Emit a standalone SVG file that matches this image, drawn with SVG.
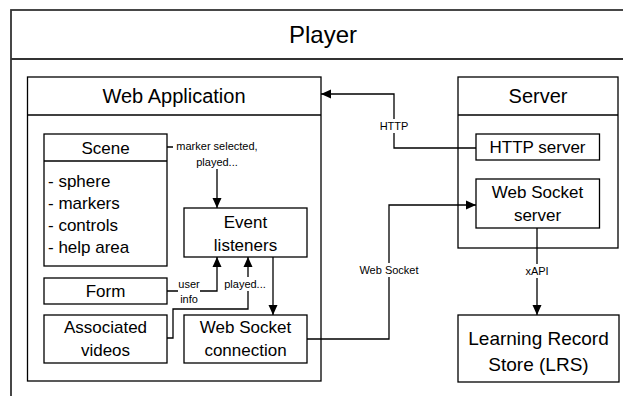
<svg xmlns="http://www.w3.org/2000/svg" width="623" height="396" viewBox="0 0 623 396">
<style>
.box{fill:#fff;stroke:#000;stroke-width:1.3}
.outer{fill:#fff;stroke:#333;stroke-width:1.8}
.t{font-family:"Liberation Sans",Arial,sans-serif;fill:#000;text-anchor:middle}
.h{font-size:20px}
.b{font-size:17px}
.s{font-size:11px}
.l{text-anchor:start}
.c{fill:none;stroke:#000;stroke-width:1.3}
.bg{fill:#fff}
</style>
<defs>
<marker id="arr" markerUnits="userSpaceOnUse" markerWidth="10" markerHeight="10" viewBox="0 0 10 10" refX="10" refY="5" orient="auto">
<path d="M0,0.5 L10,5 L0,9.5 Z" fill="#000"/>
</marker>
</defs>

<g id="player">
<rect class="outer" x="11" y="10" width="640" height="400"/>
<line class="outer" x1="11" y1="59" x2="640" y2="59"/>
<text class="t" x="323" y="43" font-size="24">Player</text>
</g>

<g id="web-application">
<rect class="box" x="27.5" y="77" width="293.5" height="304"/>
<line class="box" x1="27.5" y1="115" x2="321" y2="115"/>
<text class="t h" x="174" y="103">Web Application</text>
</g>

<g id="server">
<rect class="box" x="458" y="77" width="160" height="171"/>
<line class="box" x1="458" y1="115" x2="618" y2="115"/>
<text class="t h" x="538" y="103">Server</text>
</g>

<g id="scene">
<rect class="box" x="44" y="134" width="123" height="132"/>
<line class="box" x1="44" y1="161" x2="167" y2="161"/>
<text class="t b" x="105.5" y="154">Scene</text>
<text class="t b l" x="48" y="187">- sphere</text>
<text class="t b l" x="48" y="209">- markers</text>
<text class="t b l" x="48" y="231">- controls</text>
<text class="t b l" x="48" y="253">- help area</text>
</g>

<g id="event-listeners">
<rect class="box" x="184" y="208" width="123" height="49"/>
<text class="t b" x="245.5" y="228">Event</text>
<text class="t b" x="245.5" y="251">listeners</text>
</g>

<g id="form">
<rect class="box" x="44" y="278" width="123" height="26"/>
<text class="t b" x="105.5" y="297">Form</text>
</g>

<g id="associated-videos">
<rect class="box" x="44" y="315" width="123" height="48"/>
<text class="t b" x="105.5" y="333">Associated</text>
<text class="t b" x="105.5" y="356">videos</text>
</g>

<g id="web-socket-connection">
<rect class="box" x="184" y="315" width="123" height="48"/>
<text class="t b" x="245.5" y="333">Web Socket</text>
<text class="t b" x="245.5" y="356">connection</text>
</g>

<g id="http-server">
<rect class="box" x="476" y="134" width="123.5" height="26"/>
<text class="t b" x="537.5" y="153">HTTP server</text>
</g>

<g id="web-socket-server">
<rect class="box" x="476" y="179" width="123.5" height="49"/>
<text class="t b" x="537.5" y="198">Web Socket</text>
<text class="t b" x="537.5" y="221">server</text>
</g>

<g id="lrs">
<rect class="box" x="458" y="315" width="161" height="67"/>
<text class="t" x="538.5" y="345" font-size="19">Learning Record</text>
<text class="t" x="538.5" y="371" font-size="19">Store (LRS)</text>
</g>

<g id="connectors">
<path class="c" d="M167,147 H217 V208" marker-end="url(#arr)"/>
<rect class="bg" x="173" y="138" width="90" height="31"/>
<text class="t s" x="217" y="150">marker selected,</text>
<text class="t s" x="217" y="166">played...</text>

<path class="c" d="M167,291 H217 V257" marker-end="url(#arr)"/>
<rect class="bg" x="178" y="279" width="22" height="26"/>
<text class="t s" x="189" y="288">user</text>
<text class="t s" x="189" y="303">info</text>

<path class="c" d="M167,338 H173 V309 H248 V257" marker-end="url(#arr)"/>
<rect class="bg" x="226" y="277" width="38" height="14"/>
<text class="t s" x="245" y="288">played...</text>

<path class="c" d="M273,257 V315" marker-end="url(#arr)"/>

<path class="c" d="M307,339 H389 V205 H476" marker-end="url(#arr)"/>
<rect class="bg" x="358" y="263" width="62" height="14"/>
<text class="t s" x="389" y="274">Web Socket</text>

<path class="c" d="M476,148 H394 V94 H321" marker-end="url(#arr)"/>
<rect class="bg" x="380" y="119" width="28" height="14"/>
<text class="t s" x="394" y="130">HTTP</text>

<path class="c" d="M537,228 V315" marker-end="url(#arr)"/>
<rect class="bg" x="525" y="264" width="24" height="14"/>
<text class="t s" x="537" y="275">xAPI</text>
</g>
</svg>
